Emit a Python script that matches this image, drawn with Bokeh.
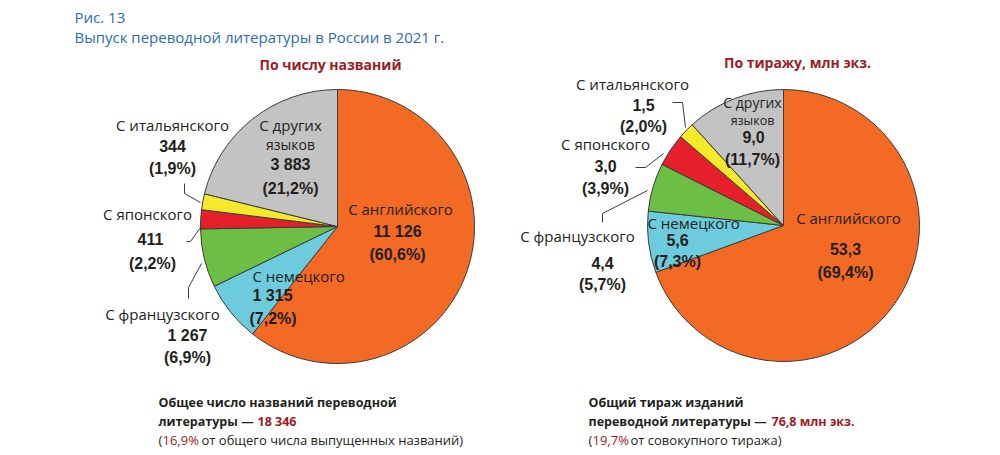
import math
from bokeh.plotting import figure
from bokeh.models import ColumnDataSource
from bokeh.core.properties import value
from bokeh.embed import file_html
from bokeh.resources import INLINE

# ---- data ----
languages = ["С английского", "С немецкого", "С французского",
             "С японского", "С итальянского", "С других языков"]
titles_count = [11126, 1315, 1267, 411, 344, 3883]        # число названий
copies_mln = [53.3, 5.6, 4.4, 3.0, 1.5, 9.0]              # тираж, млн экз.
slice_colors = ["#F26A24", "#6CCBDD", "#6CBE45", "#E5202A", "#F4EA2B", "#C3C3C3"]

total_titles = sum(titles_count)
total_copies = round(sum(copies_mln), 1)
share_of_all_titles = 16.9
share_of_all_copies = 19.7

W, H = 1000, 455


def Y(y):
    """Convert a top-down pixel row into the figure's y coordinate."""
    return H - y


def fmt_int(v):
    return f"{v:,}".replace(",", " ")


def fmt_dec(v):
    return f"{v:.1f}".replace(".", ",")


def fmt_pct(v, total):
    return "(" + f"{v / total * 100:.1f}".replace(".", ",") + "%)"


p = figure(width=W, height=H, x_range=(0, W), y_range=(0, H),
           output_backend="svg", toolbar_location=None,
           x_axis_location=None, y_axis_location=None, min_border=0)
p.grid.visible = False
p.outline_line_color = None
p.background_fill_color = "white"
p.border_fill_color = "white"

TEXT_FONT = value("Open Sans")
NUM_FONT = value("Liberation Sans")


def add_pie(cx, cy, r, vals, total):
    start, end = [], []
    acc = 0.0
    for v in vals:
        start.append(math.pi / 2 - acc / total * 2 * math.pi)
        acc += v
        end.append(math.pi / 2 - acc / total * 2 * math.pi)
    src = ColumnDataSource(dict(start=start, end=end, color=slice_colors))
    p.wedge(x=cx, y=Y(cy), radius=r, start_angle="start", end_angle="end",
            direction="clock", fill_color="color", line_color="#3c3c3c",
            line_width=1, source=src)


def put(x, y, txt, size="15px", bold=False, align="center", color="#231F20",
        font=None):
    p.text(x=[x], y=[Y(y)], text=[txt], text_align=align,
           text_baseline="middle", text_font_size=size,
           text_font=font or (NUM_FONT if bold else TEXT_FONT),
           text_font_style="bold" if bold else "normal", text_color=color)


def leader(xs, ys):
    p.line(x=xs, y=[Y(v) for v in ys], line_color="#3c3c3c", line_width=1)


# ---- pies ----
add_pie(337, 226, 137, titles_count, total_titles)
add_pie(783, 225, 136, copies_mln, total_copies)

# ---- heading ----
BLUE = "#2C6CB3"
RED = "#9B1B1F"
put(74, 16, "Рис. 13", size="15px", align="left", color=BLUE)
put(74, 36, "Выпуск переводной литературы в России в 2021 г.", size="15px",
    align="left", color=BLUE)
put(330, 64, "По числу названий", size="14px", bold=True, color=RED,
    font=TEXT_FONT)
put(797, 62, "По тиражу, млн экз.", size="14px", bold=True, color=RED,
    font=TEXT_FONT)

# ---- labels: left pie (число названий) ----
lv = [fmt_int(v) for v in titles_count]
lp = [fmt_pct(v, total_titles) for v in titles_count]
# английский
put(400, 208, languages[0])
put(397, 231, lv[0], size="16px", bold=True)
put(397, 254, lp[0], size="16px", bold=True)
# немецкий
put(252, 275, languages[1], align="left")
put(252, 295, lv[1], size="16px", bold=True, align="left")
put(249, 318, lp[1], size="16px", bold=True, align="left")
# французский
put(162, 313, languages[2])
put(187, 335, lv[2], size="16px", bold=True)
put(187, 357, lp[2], size="16px", bold=True)
# японский
put(147, 213, languages[3])
put(150, 238, lv[3], size="16px", bold=True)
put(152, 263, lp[3], size="16px", bold=True)
# итальянский
put(172, 124, languages[4])
put(172, 145, lv[4], size="16px", bold=True)
put(172, 168, lp[4], size="16px", bold=True)
# другие
name_a, name_b = languages[5].rsplit(" ", 1)
put(290, 124, name_a)
put(290, 144, name_b, size="14px")
put(290, 164, lv[5], size="16px", bold=True)
put(290, 188, lp[5], size="16px", bold=True)

leader([184, 184, 200], [183, 193, 202])
leader([186, 190, 200], [241, 241, 227])
leader([188, 188, 201], [298, 287, 263])

# ---- labels: right pie (тираж) ----
rv = [fmt_dec(v) for v in copies_mln]
rp = [fmt_pct(v, total_copies) for v in copies_mln]
put(848, 217, languages[0])
put(845, 248, rv[0], size="16px", bold=True)
put(845, 272, rp[0], size="16px", bold=True)

put(647, 222, languages[1], align="left")
put(677, 239, rv[1], size="16px", bold=True)
put(677, 261, rp[1], size="16px", bold=True)

put(577, 235, languages[2])
put(602, 262, rv[2], size="16px", bold=True)
put(602, 284, rp[2], size="16px", bold=True)

put(605, 143, languages[3])
put(605, 165, rv[3], size="16px", bold=True)
put(605, 188, rp[3], size="16px", bold=True)

put(632, 83, languages[4])
put(643, 104, rv[4], size="16px", bold=True)
put(643, 126, rp[4], size="16px", bold=True)

put(752, 102, name_a, size="14px")
put(752, 120, name_b, size="12.5px")
put(753, 136, rv[5], size="16px", bold=True)
put(752, 159, rp[5], size="16px", bold=True)

leader([672, 682, 685], [102, 102, 127])
leader([635, 645, 663], [167, 167, 153])
leader([602, 602, 647], [222, 213, 190])

# ---- totals ----
put(158, 402, "Общее число названий переводной", size="12.5px", bold=True,
    align="left", font=TEXT_FONT)
put(158, 421, "литературы —", size="12.5px", bold=True, align="left",
    font=TEXT_FONT)
put(257, 421, fmt_int(total_titles), size="12.5px", bold=True, align="left",
    color=RED, font=TEXT_FONT)
put(158, 439, "(", size="13px", align="left")
put(162, 439, fmt_dec(share_of_all_titles) + "%", size="13px", align="left",
    color=RED)
put(201, 439, "от общего числа  выпущенных названий)", size="13px",
    align="left")

put(588, 402, "Общий тираж изданий", size="12.5px", bold=True, align="left",
    font=TEXT_FONT)
put(588, 421, "переводной литературы —", size="12.5px", bold=True,
    align="left", font=TEXT_FONT)
put(771, 421, fmt_dec(total_copies) + " млн экз.", size="12.5px", bold=True,
    align="left", color=RED, font=TEXT_FONT)
put(588, 439, "(", size="13px", align="left")
put(592, 439, fmt_dec(share_of_all_copies) + "%", size="13px", align="left",
    color=RED)
put(630, 439, "от совокупного тиража)", size="13px", align="left")

open("out.html", "w").write(file_html(p, INLINE))
